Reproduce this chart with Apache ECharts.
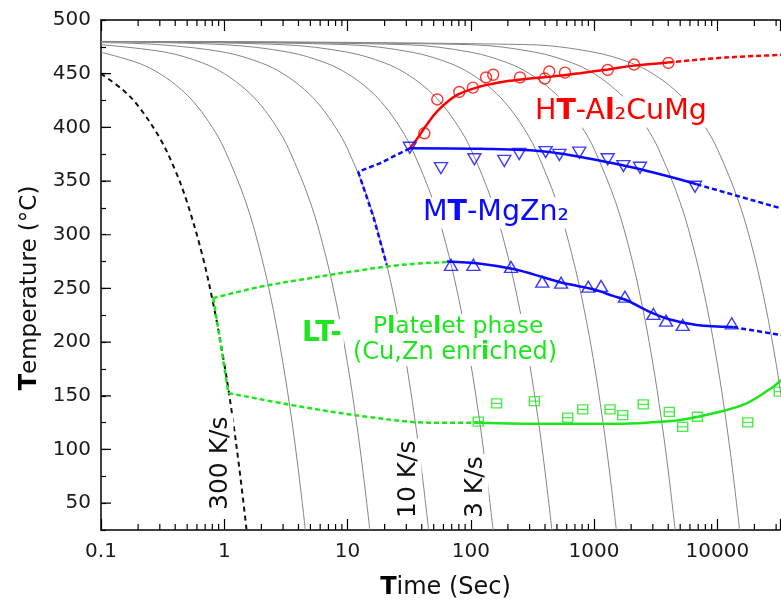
<!DOCTYPE html>
<html>
<head>
<meta charset="utf-8">
<title>Continuous cooling precipitation diagram</title>
<script src="https://cdn.jsdelivr.net/npm/echarts@6.0.0/dist/echarts.min.js"></script>
<style>
  html, body { margin: 0; padding: 0; background: #fff; }
  #chart { width: 781px; height: 610px; }
</style>
</head>
<body>
<div id="chart"></div>
<script>
// ---- data: [time (s), temperature (°C)] ----
// cooling curves, labelled by cooling rate
const cool300 = [[0.1,450],[0.15,435],[0.2,420],[0.3,390],[0.4,360],[0.5,330],[0.667,280],[0.833,230],[1.0,180],[1.167,130],[1.333,80],[1.517,25]];
const cool100 = [[0.1,470],[0.2,460],[0.3,450],[0.45,435],[0.6,420],[0.8,400],[1,380],[1.5,330],[2,280],[2.5,230],[3,180],[3.5,130],[4,80],[4.55,25]];
const cool30 = [[0.1,477],[0.333,470],[0.667,460],[1,450],[1.5,435],[2,420],[2.667,400],[3.333,380],[5,330],[6.667,280],[8.333,230],[10,180],[11.67,130],[13.33,80],[15.17,25]];
const cool10 = [[0.1,479],[0.3,477],[1,470],[2,460],[3,450],[4.5,435],[6,420],[8,400],[10,380],[15,330],[20,280],[25,230],[30,180],[35,130],[40,80],[45.5,25]];
const cool3 = [[0.1,479.7],[1,477],[3.333,470],[6.667,460],[10,450],[15,435],[20,420],[26.67,400],[33.33,380],[50,330],[66.67,280],[83.33,230],[100,180],[116.7,130],[133.3,80],[151.7,25]];
const cool1 = [[0.1,479.9],[3,477],[10,470],[20,460],[30,450],[45,435],[60,420],[80,400],[100,380],[150,330],[200,280],[250,230],[300,180],[350,130],[400,80],[455,25]];
const cool03 = [[0.1,480],[10,477],[33.33,470],[66.67,460],[100,450],[150,435],[200,420],[266.7,400],[333.3,380],[500,330],[666.7,280],[833.3,230],[1000,180],[1167,130],[1333,80],[1517,25]];
const cool01 = [[0.1,480],[30,477],[100,470],[200,460],[300,450],[450,435],[600,420],[800,400],[1000,380],[1500,330],[2000,280],[2500,230],[3000,180],[3500,130],[4000,80],[4550,25]];
const cool003 = [[0.1,480],[100,477],[333.3,470],[666.7,460],[1000,450],[1500,435],[2000,420],[2667,400],[3333,380],[5000,330],[6667,280],[8333,230],[10000,180],[11670,130],[13330,80],[15170,25]];
const cool001 = [[0.1,480],[300,477],[1000,470],[2000,460],[3000,450],[4500,435],[6000,420],[8000,400],[10000,380],[15000,330],[20000,280],[25000,230],[30000,180],[35000,130]];

// HT - Al2CuMg
const htPoints = [[42,394.5],[53.5,426],[80.7,433],[104,437],[133,446.5],[152,449],[251,446.5],[398,445.5],[433,452],[581,451],[1290,453.5],[2110,458.5],[4010,460]];
const htFit = [[32,380.5],[37,390],[43,401],[54.5,416],[77,430],[119,438],[184,442.5],[302,445.5],[470,447.5],[770,450.5],[1300,454],[2100,457.5],[4000,460.5]];
const htExtra = [[4000,460.5],[11500,465],[33000,467.5]];

// MT - MgZn2, upper (start) and lower (finish) branches
const mtUpPoints = [[32,381],[57.3,362],[107,370.3],[187,368.7],[247,375.2],[405,377],[523,374.3],[759,376.4],[1290,370.3],[1730,364],[2360,362.4],[6590,344.7]];
const mtUpFit = [[32,380.5],[119,380],[413,377.3],[1430,366.5],[3650,355.6],[6800,347]];
const mtUpExtra = [[6800,347],[33000,324.5]];
const mtNoseTop = [[32,380.5],[18.3,366.5],[12.2,358.7]];
const mtNoseSide = [[12.2,358.7],[16.2,316.8],[20.8,272]];
const mtLowPoints = [[69.1,272],[105,272],[212,270],[380,256.3],[540,255.3],[898,251.6],[1140,252.3],[1780,242.3],[3030,226.2],[3840,220],[5240,216],[13090,217.5]];
const mtLowFit = [[63.8,275],[120,273],[221,268],[400,260],[563,255],[1000,249],[1430,243],[1840,239],[2670,229.5],[4130,221],[6800,216],[13500,214]];
const mtLowExtra = [[13500,214],[33000,206.5]];

// LT - platelet phase
const ltPoints = [[115,126],[162,143],[328,145],[611,129.6],[809,137.4],[1347,137.4],[1708,132],[2509,142],[4080,135],[5240,121],[6900,130.5],[17650,125.3],[31840,153.8]];
const ltFit = [[115,125],[400,124],[1500,124],[2700,125],[4980,127.5],[9280,133.7],[17300,143],[28500,158.5],[33000,164.7]];
const ltDashUpper = [[63.8,274.6],[26.7,271.8],[10.5,265.5],[4.12,258],[1.95,251.5],[0.815,241]];
const ltDashLeft = [[0.815,241],[1.08,152.5]];
const ltDashLower = [[1.08,152.5],[4.12,140],[14.3,130.5],[46.7,125],[115,125]];

// axis ticks
const decades = [0.1, 1, 10, 100, 1000, 10000];
const minorSteps = [2, 3, 4, 5, 6, 7, 8, 9];
const majorTemps = [50, 100, 150, 200, 250, 300, 350, 400, 450];
const xMin = 0.1, xMax = 32260;
const yMin = 25, yMax = 500;
const minorLen = 5.6;      // minor time tick length, in °C
const majorFactor = 1.205; // major temperature tick length, as a time factor

const FONT = 'DejaVu Sans';
const RED = '#ff0000', BLUE = '#0a0aff', GREEN = '#1ee61e', GRAY = '#858585';

// tick segments, broken apart by empty points
let minorTicks = [];
decades.forEach((d) => {
  minorSteps.forEach((m) => {
    let t = m * d;
    if (t <= xMax) {
      minorTicks.push([t, yMin], [t, yMin + minorLen], [t, null]);
      minorTicks.push([t, yMax], [t, yMax - minorLen], [t, null]);
    }
  });
});
let majorTicks = [];
majorTemps.forEach((v) => {
  majorTicks.push([xMin, v], [xMin * majorFactor, v], [null, v]);
});

function curve(data, color, width, type, z, smooth) {
  return {
    type: 'line', data: data, symbol: 'none', showSymbol: false,
    smooth: smooth === undefined ? 0.35 : smooth,
    lineStyle: { color: color, width: width, type: type },
    z: z, silent: true
  };
}
function marks(data, symbol, size, color, rotate) {
  return {
    type: 'scatter', data: data, symbol: symbol, symbolSize: size, symbolRotate: rotate || 0,
    itemStyle: { color: 'rgba(0,0,0,0)', borderColor: color, borderWidth: 1.4 },
    z: 12, silent: true
  };
}
function tickMarks(data) {
  return { type: 'line', data: data, symbol: 'none', lineStyle: { color: '#000', width: 1.2 } };
}
function xLabel(v) {
  let p = Math.log10(v);
  if (Math.abs(p - Math.round(p)) > 1e-6) return '';
  return p < 0 ? v.toFixed(-Math.round(p)) : String(Math.round(v));
}
function label(x, y, text, rich, rotation, align) {
  return {
    type: 'text', x: x, y: y, z: 5, rotation: rotation || 0,
    style: {
      text: text, rich: rich, align: align || 'left', verticalAlign: 'middle',
      backgroundColor: '#fff', padding: [1, 2]
    }
  };
}
function richSet(color, size) {
  return {
    n: { fill: color, fontSize: size, fontFamily: FONT },
    b: { fill: color, fontSize: size, fontFamily: FONT, fontWeight: 'bold' }
  };
}

let myChart = echarts.init(document.getElementById('chart'));

let xAxis = [
  {
    type: 'log', position: 'bottom', min: xMin, max: xMax,
    axisLine: { show: true, lineStyle: { color: '#000', width: 1.5 } },
    axisTick: { show: true, inside: true, length: 11, lineStyle: { color: '#000', width: 1.2 } },
    axisLabel: { show: true, formatter: xLabel, fontFamily: FONT, fontSize: 20, color: '#1a1a1a', margin: 12 },
    splitLine: { show: false },
    name: '{b|T}{n|ime (Sec)}', nameLocation: 'middle', nameGap: 46,
    nameTextStyle: {
      padding: [0, 0, 0, 10],
      rich: {
        b: { fontFamily: FONT, fontSize: 24, fontWeight: 'bold', color: '#000' },
        n: { fontFamily: FONT, fontSize: 24, color: '#111' }
      }
    }
  },
  {
    type: 'log', position: 'top', min: xMin, max: xMax,
    axisLine: { show: true, lineStyle: { color: '#000', width: 1.5 } },
    axisTick: { show: true, inside: true, length: 11, lineStyle: { color: '#000', width: 1.2 } },
    axisLabel: { show: false }, splitLine: { show: false }
  }
];
let yAxis = [
  {
    type: 'value', position: 'left', min: yMin, max: yMax, interval: 25,
    axisLine: { show: true, lineStyle: { color: '#000', width: 1.5 } },
    axisTick: { show: true, inside: true, length: 5, lineStyle: { color: '#000', width: 1.2 } },
    axisLabel: {
      show: true,
      formatter: (v) => (v % 50 === 0 ? String(v) : ''),
      fontFamily: FONT, fontSize: 20, color: '#1a1a1a', margin: 10
    },
    splitLine: { show: false },
    name: '{b|T}{n|emperature (°C)}', nameLocation: 'middle', nameRotate: 90, nameGap: 58,
    nameTextStyle: {
      padding: [0, 26, 0, 0],
      rich: {
        b: { fontFamily: FONT, fontSize: 24, fontWeight: 'bold', color: '#000' },
        n: { fontFamily: FONT, fontSize: 23, color: '#111' }
      }
    }
  }
];

let series = [
  curve(cool300, '#111', 2, [5, 4], 3),
  curve(cool100, GRAY, 1, 'solid', 1),
  curve(cool30, GRAY, 1, 'solid', 1),
  curve(cool10, GRAY, 1, 'solid', 1),
  curve(cool3, GRAY, 1, 'solid', 1),
  curve(cool1, GRAY, 1, 'solid', 1),
  curve(cool03, GRAY, 1, 'solid', 1),
  curve(cool01, GRAY, 1, 'solid', 1),
  curve(cool003, GRAY, 1, 'solid', 1),
  curve(cool001, GRAY, 1, 'solid', 1),

  curve(htFit, RED, 2.5, 'solid', 10),
  curve(htExtra, RED, 2.5, [5, 3], 10),
  marks(htPoints, 'circle', 11, RED),

  curve(mtUpFit, BLUE, 2.5, 'solid', 10),
  curve(mtUpExtra, BLUE, 2.5, [5, 3], 10),
  curve(mtNoseTop, BLUE, 2.5, [5, 3], 10, false),
  curve(mtNoseSide, BLUE, 2.5, [5, 3], 10, false),
  marks(mtUpPoints, 'triangle', [13, 11], BLUE, 180),
  curve(mtLowFit, BLUE, 2.5, 'solid', 10),
  curve(mtLowExtra, BLUE, 2.5, [5, 3], 10),
  marks(mtLowPoints, 'triangle', [13, 11], BLUE),

  curve(ltFit, GREEN, 2.5, 'solid', 10),
  curve(ltDashUpper, GREEN, 2.5, [5, 3], 10),
  curve(ltDashLeft, GREEN, 2.5, [5, 3], 10, false),
  curve(ltDashLower, GREEN, 2.5, [5, 3], 10),
  marks(ltPoints, 'path://M0,0H10V9H0ZM0,4.5H10', [10, 9], GREEN),

  tickMarks(minorTicks),
  tickMarks(majorTicks)
];

let graphic = [
  label(533, 112, '{n|H}{b|T}{n|-A}{b|l}{n|₂CuMg}', richSet(RED, 28.5)),
  label(421, 213, '{n|M}{b|T}{n|-MgZn₂}', richSet(BLUE, 28.5)),
  label(300, 334, '{b|LT-}', richSet(GREEN, 28)),
  label(371, 327, '{n|P}{b|l}{n|ate}{b|l}{n|et phase}', richSet(GREEN, 23.5)),
  label(351, 353, '{n|(Cu,Zn enr}{b|i}{n|ched)}', richSet(GREEN, 24)),
  label(220, 512, '{n|300 K/s}', richSet('#111', 25), Math.PI / 2),
  label(408, 520, '{n|10 K/s}', richSet('#111', 25), Math.PI / 2),
  label(475, 520, '{n|3 K/s}', richSet('#111', 25), Math.PI / 2)
];

myChart.setOption({
  animation: false,
  grid: { left: 101, top: 20, width: 679, height: 510, outerBoundsMode: 'none' },
  xAxis: xAxis,
  yAxis: yAxis,
  series: series,
  graphic: graphic
});
</script>
</body>
</html>
